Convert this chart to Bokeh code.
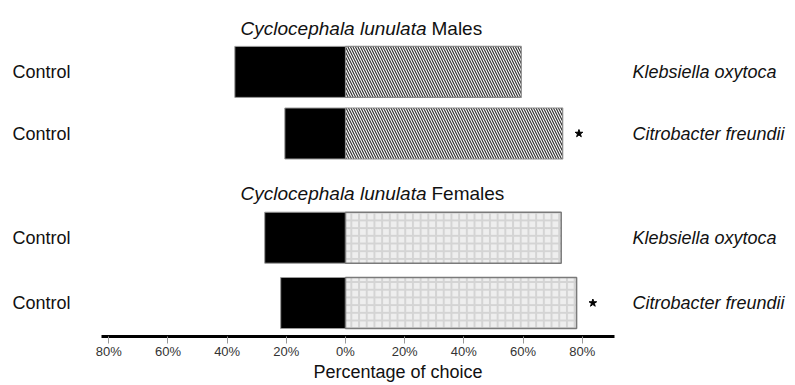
from bokeh.plotting import figure
from bokeh.models import Range1d, FixedTicker
from bokeh.core.properties import value
from bokeh.embed import file_html
from bokeh.resources import INLINE

# ---------------- data ----------------
sexes = ["Males", "Males", "Females", "Females"]
bacteria = ["Klebsiella oxytoca", "Citrobacter freundii",
            "Klebsiella oxytoca", "Citrobacter freundii"]
control_pct = [37.4, 20.5, 27.3, 21.9]
bacteria_pct = [59.4, 73.4, 72.9, 78.1]
significant = [False, True, False, True]
species_title = "Cyclocephala lunulata"
tick_values = [-80, -60, -40, -20, 0, 20, 40, 60, 80]
tick_labels = ["80%", "60%", "40%", "20%", "0%", "20%", "40%", "60%", "80%"]
axis_title = "Percentage of choice"

# ---------------- layout ----------------
W, H = 795, 385
PX_PER_PCT = 2.959
ZERO_X = 345.0           # pixel of 0 % inside the figure
FRAME_BOTTOM = 336       # pixel row of the axis line (frame height)
ROW_Y = [71.4, 133.0, 237.2, 302.5]
TITLE_Y = {"Males": 28.0, "Females": 193.0}
BAR_H = 51
FONT = value("Liberation Sans")


def px_to_pct(px):
    return (px - ZERO_X) / PX_PER_PCT


p = figure(width=W, height=H, output_backend="svg", toolbar_location=None,
           x_range=Range1d(px_to_pct(0), px_to_pct(W)),
           y_range=Range1d(FRAME_BOTTOM, 0),
           y_axis_location=None,
           min_border_left=0, min_border_right=0, min_border_top=0,
           min_border_bottom=H - FRAME_BOTTOM)
p.outline_line_color = None
p.grid.visible = False
p.background_fill_color = "white"
p.border_fill_color = "white"

# control bars (left, black)
p.hbar(y=ROW_Y, left=[-c for c in control_pct], right=0, height=BAR_H,
       fill_color="black", line_color="#9a9a9a", line_width=1)

# bacteria bars (right, patterned)
males_idx = [i for i, s in enumerate(sexes) if s == "Males"]
fem_idx = [i for i, s in enumerate(sexes) if s == "Females"]
p.hbar(y=[ROW_Y[i] for i in males_idx], left=0,
       right=[bacteria_pct[i] for i in males_idx], height=BAR_H,
       fill_color="white", line_color="#8a8a8a", line_width=1.2,
       hatch_pattern="\\", hatch_color="#333333", hatch_scale=5, hatch_weight=1.2)
p.hbar(y=[ROW_Y[i] for i in fem_idx], left=0,
       right=[bacteria_pct[i] for i in fem_idx], height=BAR_H,
       fill_color="#eeeeee", line_color="#7a7a7a", line_width=1.5,
       hatch_pattern="+", hatch_color="#d4d4d4", hatch_scale=7.7, hatch_weight=2)

# significance stars
sx = [bacteria_pct[i] + 5.5 for i in range(4) if significant[i]]
sy = [ROW_Y[i] for i in range(4) if significant[i]]
p.scatter(x=sx, y=sy, marker="star", size=8, fill_color="black", line_color="black")

# row labels
p.text(x=[px_to_pct(12)] * 4, y=ROW_Y, text=["Control"] * 4,
       text_font=FONT, text_font_size="18px", text_color="#111111",
       text_align="left", text_baseline="middle")
p.text(x=[px_to_pct(632)] * 4, y=ROW_Y, text=bacteria,
       text_font=FONT, text_font_size="18px", text_font_style="italic",
       text_color="#111111", text_align="left", text_baseline="middle")

# group titles
SPLIT_X = px_to_pct(426)
groups = ["Males", "Females"]
p.text(x=[SPLIT_X] * 2, y=[TITLE_Y[g] for g in groups], text=[species_title] * 2,
       text_font=FONT, text_font_size="19px", text_font_style="italic",
       text_color="#111111", text_align="right", text_baseline="middle")
p.text(x=[SPLIT_X] * 2, y=[TITLE_Y[g] for g in groups], text=groups, x_offset=5,
       text_font=FONT, text_font_size="19px", text_color="#111111",
       text_align="left", text_baseline="middle")

# x axis
ax = p.xaxis[0]
ax.ticker = FixedTicker(ticks=tick_values)
ax.major_label_overrides = {t: l for t, l in zip(tick_values, tick_labels)}
ax.bounds = (px_to_pct(101), px_to_pct(614))
ax.axis_line_width = 3
ax.axis_line_color = "black"
ax.major_tick_line_color = "#999999"
ax.major_tick_in = 0
ax.major_tick_out = 7
ax.minor_tick_line_color = None
ax.major_label_standoff = 0
ax.major_label_text_font = "Liberation Sans"
ax.major_label_text_font_size = "13px"
ax.major_label_text_color = "#333333"
ax.axis_label = axis_title
ax.axis_label_standoff = 0
ax.axis_label_text_font = "Liberation Sans"
ax.axis_label_text_font_size = "18px"
ax.axis_label_text_font_style = "normal"
ax.axis_label_text_color = "#111111"

open("out.html", "w").write(file_html(p, INLINE))
